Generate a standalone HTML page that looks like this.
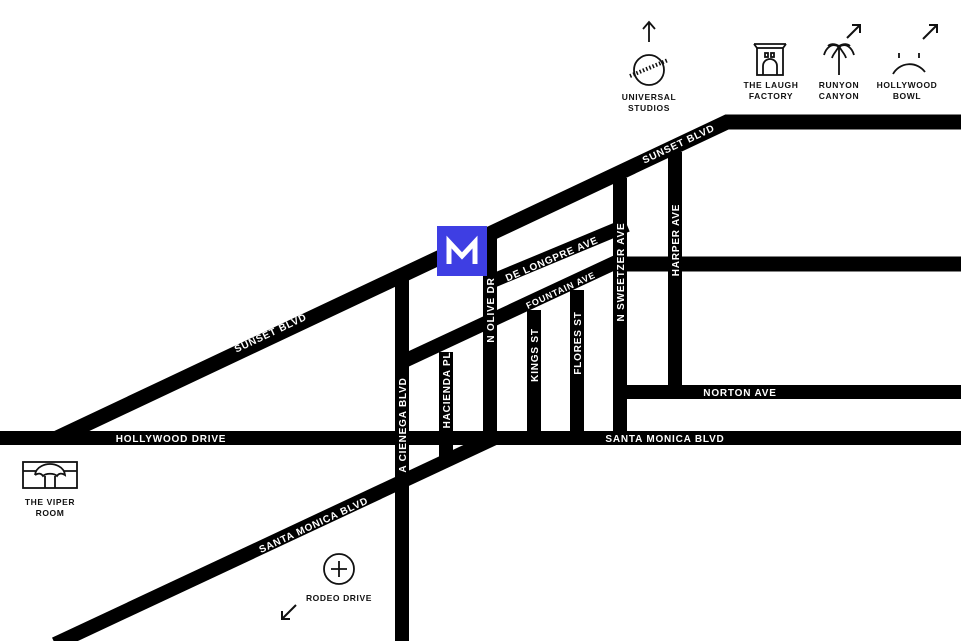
<!DOCTYPE html>
<html><head><meta charset="utf-8"><style>
html,body{margin:0;padding:0;background:#fff}
svg{display:block}
.w{fill:#fff;font-family:"Liberation Sans",sans-serif;font-size:10px;letter-spacing:0.8px;font-weight:bold}
.d{fill:#111;font-family:"Liberation Sans",sans-serif;font-size:8.5px;letter-spacing:0.6px;font-weight:bold;text-anchor:middle}
</style></head><body>
<svg width="961" height="641" viewBox="0 0 961 641" xmlns="http://www.w3.org/2000/svg">
<defs><clipPath id="c"><rect x="0" y="0" width="961" height="445"/></clipPath></defs>
<g stroke="#000" stroke-width="14" fill="none">
<line x1="0" y1="438" x2="961" y2="438"/>
<polyline points="40,446 727,122 961,122" stroke-width="15" clip-path="url(#c)"/>
<line x1="55" y1="644" x2="497" y2="437"/>
<line x1="402" y1="272" x2="402" y2="641"/>
<line x1="490" y1="228" x2="490" y2="438"/>
<line x1="446" y1="352" x2="446" y2="458"/>
<line x1="402" y1="362" x2="627" y2="257"/>
<line x1="490" y1="282" x2="627" y2="225"/>
<line x1="620" y1="178" x2="620" y2="445"/>
<line x1="675" y1="152" x2="675" y2="392"/>
<line x1="620" y1="264" x2="961" y2="264" stroke-width="15"/>
<line x1="620" y1="392" x2="961" y2="392"/>
<line x1="534" y1="310" x2="534" y2="438"/>
<line x1="577" y1="290" x2="577" y2="438"/>
</g>
<rect x="437" y="226" width="50" height="50" fill="#3e3ee3"/>
<path d="M449 264 V242 L462 256 L475 242 V264" stroke="#fff" stroke-width="5" fill="none" stroke-linejoin="miter"/>
<text class="w" transform="translate(272,336) rotate(-25.2)" text-anchor="middle">SUNSET BLVD</text>
<text class="w" transform="translate(680,147) rotate(-25.2)" text-anchor="middle">SUNSET BLVD</text>
<text class="w" x="171" y="442" text-anchor="middle">HOLLYWOOD DRIVE</text>
<text class="w" x="665" y="442" text-anchor="middle">SANTA MONICA BLVD</text>
<text class="w" x="740" y="396" text-anchor="middle">NORTON AVE</text>
<text class="w" transform="translate(315,528) rotate(-25)" text-anchor="middle">SANTA MONICA BLVD</text>
<text class="w" transform="translate(553,262) rotate(-23)" text-anchor="middle">DE LONGPRE AVE</text>
<text class="w" transform="translate(562,293) rotate(-25)" text-anchor="middle" style="font-size:9px">FOUNTAIN AVE</text>
<text class="w" transform="translate(406,425) rotate(-90)" text-anchor="middle">A CIENEGA BLVD</text>
<text class="w" transform="translate(450,390) rotate(-90)" text-anchor="middle">HACIENDA PL</text>
<text class="w" transform="translate(494,310) rotate(-90)" text-anchor="middle">N OLIVE DR</text>
<text class="w" transform="translate(538,355) rotate(-90)" text-anchor="middle">KINGS ST</text>
<text class="w" transform="translate(581,343) rotate(-90)" text-anchor="middle">FLORES ST</text>
<text class="w" transform="translate(624,272) rotate(-90)" text-anchor="middle">N SWEETZER AVE</text>
<text class="w" transform="translate(679,240) rotate(-90)" text-anchor="middle">HARPER AVE</text>
<g stroke="#111" stroke-width="1.8" fill="none">
<path d="M649 42 V23 M643 29 L649 22 L655 29"/>
<circle cx="649" cy="70" r="15"/>
<path d="M630 76 L668 60" stroke-width="4" stroke-dasharray="1.5 2"/>
<rect x="757" y="48" width="26" height="27"/>
<path d="M754 44 H786 M757 48 L754 44 M783 48 L786 44"/>
<path d="M763 75 V66 a7 7 0 0 1 14 0 V75"/>
<rect x="765" y="53" width="3" height="4"/><rect x="771" y="53" width="3" height="4"/>
<path d="M839 75 V46 M839 47 C832 42 826 48 824 55 M839 47 C846 42 852 48 854 55 M839 46 C834 43 830 44 828 46 M839 46 C844 43 848 44 850 46 M839 46 C836 52 833 54 832 58 M839 46 C842 52 845 54 846 58"/>
<path d="M847 38 L860 25 M852 25 H860 V33" stroke-width="2"/>
<path d="M893 74 A19 19 0 0 1 925 72 M899 58 V53 M919 58 V53"/>
<path d="M923 39 L937 25 M929 25 H937 V33" stroke-width="2"/>
<rect x="23" y="462" width="54" height="26"/>
<path d="M23 471 H36 M64 471 H77 M35 475 C36 466 46 464 50 464 C54 464 64 466 65 475 C62 473 59 473 57 476 C54 473 46 473 43 476 C41 473 38 473 35 475 M45 476 V488 M55 476 V488"/>
<circle cx="339" cy="569" r="15"/>
<path d="M331 569 H347 M339 561 V577"/>
<path d="M296 605 L282 619 M282 611 V619 H290" stroke-width="2"/>
</g>
<text class="d" x="649" y="100">UNIVERSAL</text>
<text class="d" x="649" y="111">STUDIOS</text>
<text class="d" x="771" y="88">THE LAUGH</text>
<text class="d" x="771" y="99">FACTORY</text>
<text class="d" x="839" y="88">RUNYON</text>
<text class="d" x="839" y="99">CANYON</text>
<text class="d" x="907" y="88">HOLLYWOOD</text>
<text class="d" x="907" y="99">BOWL</text>
<text class="d" x="50" y="505">THE VIPER</text>
<text class="d" x="50" y="516">ROOM</text>
<text class="d" x="339" y="601">RODEO DRIVE</text>
</svg>
</body></html>
